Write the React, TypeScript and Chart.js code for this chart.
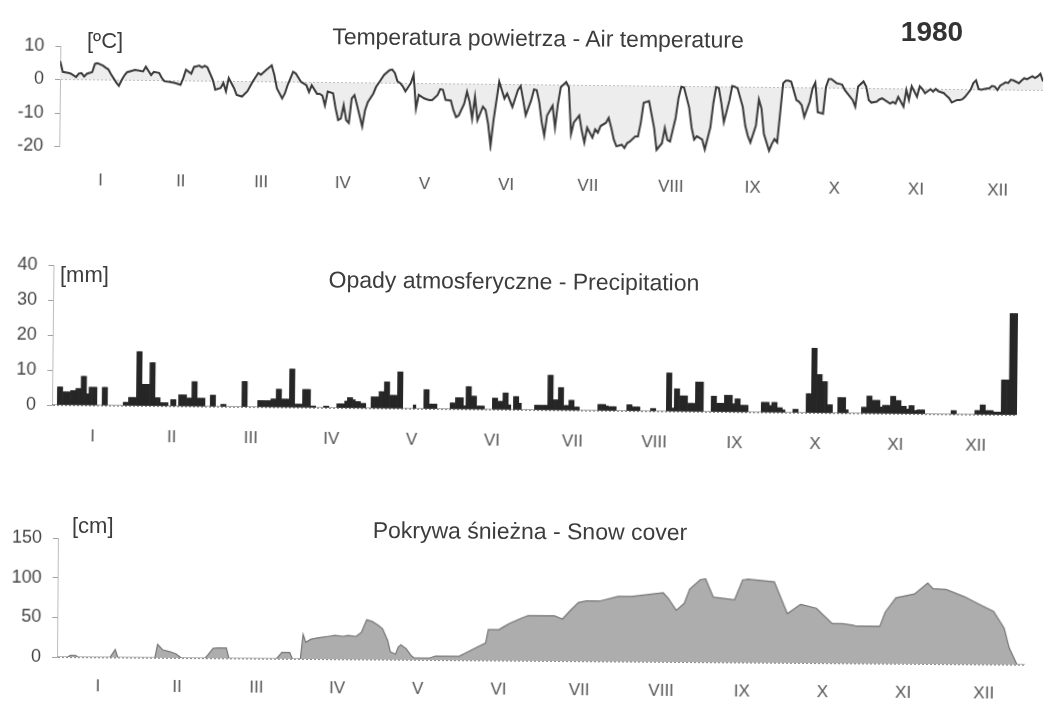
import React, { useEffect, useRef } from "react";
import { Chart, registerables } from "chart.js";

Chart.register(...registerables);

const FONT = '"Liberation Sans", Arial, Helvetica, sans-serif';

// ---------- data ----------
const monthLabels = ["I", "II", "III", "IV", "V", "VI", "VII", "VIII", "IX", "X", "XI", "XII"];
const monthMidDays = [15.5, 45.5, 75.5, 106, 136.5, 167, 197.5, 228.5, 259, 289.5, 320, 350.5];

// daily air temperature 1980, [day of year, °C]
const tempReadings: [number, number][] = [
  [0,5.5],[1,2.3],[3,2.0],[4,1.8],[6,0.8],[7,1.8],[8,2.0],[9,1.0],[10,1.8],[12,2.3],[13,4.8],[14,5.0],[16,4.3],[17,3.7],[18,3.2],[19,1.8],[21,-0.7],[22,-1.7],[23,0],[24,1.4],[25,2.4],[28,3.1],[31,2.7],[32,4.1],[34,1.6],[35,2.6],[37,2.3],[38,0.8],[39,-0.2],[41,-0.4],[43,-0.7],[45,-1.2],[46,0.8],[47,3.3],[49,2.2],[50,4.2],[52,4.6],[53,4.1],[54,4.6],[55,4.1],[57,0.5],[58,-2.5],[60,-2.0],[61,-0.5],[62,-3.0],[63,1.0],[65,-2.0],[66,-4.0],[68,-4.5],[70,-2.9],[72,0.1],[74,2.6],[75,2.1],[77,3.6],[79,4.9],[80,2.1],[81,-1.9],[83,-4.9],[84,-3.4],[85,-0.9],[87,3.1],[88,2.6],[90,0.1],[92,-0.9],[93,-2.9],[94,-0.9],[96,-3.4],[97,-3.4],[98,-3.9],[99,-6.9],[100,-2.7],[102,-3.2],[103,-7.7],[104,-11.2],[105,-10.7],[106,-6.7],[107,-11.2],[108,-12.0],[109,-4.7],[110,-3.7],[111,-6.7],[113,-13.0],[114,-8.2],[115,-5.7],[117,-3.2],[118,-1.2],[119,0],[121,2.5],[123,3.9],[124,4.1],[125,3.1],[126,0.6],[127,0.1],[128,-0.9],[129,-2.4],[131,0.1],[132,2.6],[133,-7.5],[134,-3.4],[136,-4.4],[137,-4.7],[138,-4.9],[139,-4.9],[141,-3.4],[142,-1.6],[143,-1.8],[144,-4.8],[146,-5.0],[147,-7.9],[148,-9.9],[149,-9.4],[151,-5.9],[152,-2.3],[153,-5.3],[154,-10.3],[155,-3.8],[156,-10.8],[158,-6.7],[159,-7.7],[160,-11.8],[161,-18.4],[162,-10.8],[164,0.8],[165,-1.7],[166,-4.2],[167,-2.7],[169,-6.7],[170,-4.2],[171,-1.6],[172,-0.4],[173,-4.6],[174,-9.1],[176,-4.6],[177,-1.4],[178,-1.6],[179,-5.1],[180,-11.1],[181,-15.1],[182,-9.1],[184,-6.2],[185,-12.7],[186,-5.6],[187,-0.6],[189,0.9],[190,-0.6],[191,-14.6],[192,-11.1],[194,-9.0],[195,-13.6],[196,-17.1],[197,-12.6],[199,-15.6],[200,-13.1],[201,-14.1],[202,-12.1],[204,-11.1],[205,-9.6],[206,-12.6],[207,-16.1],[208,-18.1],[210,-17.6],[211,-18.6],[212,-17.1],[213,-16.6],[215,-15.1],[216,-15.1],[217,-11.0],[218,-5.0],[220,-4.5],[221,-8.5],[222,-12.5],[223,-19.0],[225,-17.0],[226,-12.5],[227,-16.0],[228,-16.5],[230,-9.4],[231,-3.4],[232,-0.1],[233,-0.3],[235,-6.3],[236,-12.3],[237,-15.8],[238,-14.8],[240,-15.8],[241,-18.7],[243,-12.1],[244,-5.0],[245,-0.1],[246,-0.4],[247,-4.9],[248,-10.5],[250,-4.0],[251,0.3],[252,0.1],[253,-0.4],[255,-5.9],[256,-11.5],[257,-14.5],[258,-16.5],[260,-11.4],[261,-3.6],[262,-6.3],[263,-13.9],[265,-18.9],[266,-16.9],[267,-15.4],[268,-16.4],[270,1.3],[271,2.1],[272,2.1],[273,1.8],[275,-3.7],[276,-4.2],[277,-5.2],[278,-8.7],[280,-4.1],[281,-0.1],[282,1.6],[283,-7.2],[285,-7.7],[286,0.4],[287,2.7],[288,2.7],[290,1.5],[291,1.3],[292,1.1],[293,-0.5],[295,-2.5],[296,-3.5],[297,-5.5],[298,0.6],[300,2.1],[301,0.6],[302,-3.4],[303,-4.2],[305,-3.9],[306,-3.2],[307,-2.9],[308,-3.4],[310,-4.4],[311,-3.9],[312,-4.4],[313,-2.4],[315,-5.3],[316,-0.3],[317,-3.3],[318,0.8],[320,-2.3],[321,0.8],[322,0],[323,-1.2],[325,0],[326,-0.7],[327,0.1],[328,-0.6],[330,-1.1],[331,-1.9],[332,-2.6],[333,-3.9],[335,-3.1],[336,-3.1],[337,-2.9],[338,-2.1],[340,0],[341,2.0],[342,2.8],[343,0.2],[344,0],[345,0.2],[347,0.5],[348,1.2],[349,1.0],[350,0],[351,1.3],[353,2.3],[354,2.1],[355,3.1],[356,2.9],[358,2.1],[359,2.9],[360,3.6],[361,3.3],[363,4.2],[364,3.7],[365,4.2],[366,5.0],[367,2.7],
];
const tempTicks = [10, 0, -10, -20];

// daily precipitation [mm], one array per month
const precipI = [0,0,5.2,5.2,3.8,3.8,3.8,4.2,4.2,4.8,4.8,8.3,8.3,3.3,5.2,5.2,5.2,0,0,5.2,5.2,0,0,0,0,0,0,1,1,2.4,2.4];
const precipII = [2.4,15.5,15.5,6.2,6.2,6.2,12.4,12.4,2.4,2.4,1,1,1,0,1.9,1.9,0,3.3,3.3,3.3,2.4,2.4,7.1,7.1,2.4,2.4,2.4,0,0];
const precipIII = [3.3,3.3,0,0,0.7,0.7,0,0,0,0,0,0,7.3,7.3,0,0,0,0,1.9,1.9,1.9,1.9,1.9,2.4,2.4,5.2,5.2,2.4,2.4,2.4,11];
const precipIV = [11,1,1,1,5.2,5.2,5.2,0.5,0.5,0,0,0,0.5,0.5,0,0,0,1.2,1.2,1.2,2.0,3.0,3.0,2.4,1.9,1.9,1.4,1.4,0,0];
const precipV = [3.3,3.3,3.3,4.8,4.8,7.6,7.6,3.8,3.8,3.8,10.5,10.5,0,0,0,0,1.1,0,0,0,5.5,5.5,1.4,1.4,1.4,0,0,0,0,0,1.8];
const precipVI = [1.8,3.3,3.3,3.3,1,6.5,6.5,3.8,3.8,1,1,1,0,0,0,3.3,3.3,2.4,2.4,4.8,4.8,1.4,0,3.8,3.8,1.9,0,0,0,0];
const precipVII = [0,1.4,1.4,1.4,1.4,1.4,10,10,3,3,6.5,6.5,1.4,1.4,2.9,2.9,1,1,0,0,0,0,0,0,0,1.8,1.8,1.8,1.4,1.2,1.2];
const precipVIII = [1.2,0,0,0,0,1.8,1.8,1.2,1.2,1.2,0,0,0,0,0.8,0.8,0,0,0,0,11,11,1,6.5,6.5,4.5,4.5,4.5,2.4,2.4,2.4];
const precipIX = [8.5,8.5,8.5,0,0,0,4.5,4.5,2.5,2.5,2.5,4.8,4.8,4.8,2.4,3.8,3.8,2.0,2.0,2.0,0,0,0,0,0,2.9,2.9,2.9,2.0,2.9];
const precipX = [2.9,1.4,1.4,0.8,0,0,0,1.0,1.0,0,0,0,5.5,5.5,18.5,18.5,11,11,9,9,2.4,2.4,0,0,4.5,4.5,4.5,1,0,0,0];
const precipXI = [0,0,1.8,1.8,5,5,3.8,3.8,3.8,1.9,2.4,2.4,2.4,5,5,3.8,3.8,2.2,2.2,1.4,2.4,2.4,1.0,1.2,1.2,1.2,0,0,0,0];
const precipXII = [0,0,0,0,0,0,1.1,1.1,0,0,0,0,0,0,0,1.2,1.2,2.8,2.8,1.2,1.2,1.2,0.8,0.8,0.8,10,10,10,29,29,29];
const precipTicks = [0, 10, 20, 30, 40];

// snow cover depth [cm], [day of year, cm]
const snowReadings: [number, number][] = [
  [0,0],[4,0],[5,2],[7,2],[8,0],[20,0],[22,10],[23,0],[37,0],[38,17],[40,10],[43,7.5],[45,5],[47,0],[56,0],[57,4],[59,12.5],[61,13],[64,13],[65,0],[83,0],[85,8],[88,8],[89,0],[92,0],[93,31],[94,21],[96,25],[99,27],[103,29],[105,30],[108,29],[110,30],[113,29],[115,34],[117,50],[119,48],[121,44],[123,39],[125,24],[126,10],[128,7],[129,16],[130,19],[132,14],[134,5],[135,2.5],[141,2.5],[143,5],[152,5],[155,10],[159,17],[162,22],[163,39],[167,39],[169,43],[171,47],[175,53],[178,57],[188,57],[191,53],[194,64],[197,74],[200,76],[205,76],[212,82],[217,82],[229,87],[231,80],[234,65],[237,74],[239,92],[243,104],[245,105],[248,82],[256,79],[259,104],[261,105],[271,102],[276,62],[281,74],[287,69],[293,50],[297,50],[301,48],[302,47],[311,47],[313,65],[317,83],[324,88],[329,102],[331,95],[336,94],[343,85],[349,75],[354,67],[358,46],[360,21],[363,0],[366,0],
];
const snowTicks = [0, 50, 100, 150];

// ---------- layout ----------
type Frame = {
  top: number; height: number; left: number; right: number;
  plotTop: number; plotBottom: number; zeroY: number;
  tilt: number; labelPad: number; xMax: number;
};

const tempFrame: Frame = { top: 0, height: 200, left: 60, right: 1043, plotTop: 46, plotBottom: 146.5, zeroY: 79.5, tilt: 0.64, labelPad: 24, xMax: 367 };
const precipFrame: Frame = { top: 240, height: 230, left: 52, right: 1017, plotTop: 265, plotBottom: 405, zeroY: 405, tilt: 0.6, labelPad: 21, xMax: 366 };
const snowFrame: Frame = { top: 500, height: 201, left: 57, right: 1025, plotTop: 538, plotBottom: 657, zeroY: 657, tilt: 0.46, labelPad: 19, xMax: 366 };

function makeOptions(f: Frame, yMin: number, yMax: number, yTicks: number[]): any {
  return {
    animation: false,
    responsive: false,
    maintainAspectRatio: false,
    events: [],
    layout: { padding: { top: f.plotTop - f.top, right: 1044 - f.right, left: 0, bottom: 0 } },
    plugins: { legend: { display: false }, tooltip: { enabled: false }, title: { display: false } },
    scales: {
      x: {
        type: "linear",
        min: 0,
        max: f.xMax,
        offset: false,
        afterBuildTicks: (s: any) => { s.ticks = monthMidDays.map((v) => ({ value: v })); },
        afterFit: (s: any) => { s.height = f.top + f.height - f.plotBottom; },
        grid: { display: false, drawTicks: false },
        border: { display: false },
        ticks: {
          autoSkip: false,
          maxRotation: 0,
          padding: f.labelPad,
          color: "#555555",
          font: { family: FONT, size: 17 },
          callback: (_v: any, i: number) => monthLabels[i],
        },
      },
      y: {
        type: "linear",
        min: yMin,
        max: yMax,
        afterBuildTicks: (s: any) => { s.ticks = yTicks.map((v) => ({ value: v })); },
        afterFit: (s: any) => { s.width = f.left; },
        grid: {
          color: (c: any) => (c.tick && c.tick.value === 0 ? "#8e8e8e" : "rgba(0,0,0,0)"),
          tickColor: "#a0a0a0",
          tickLength: 5,
          lineWidth: 1,
        },
        border: { display: true, color: "#bdbdbd", dash: [2, 2] },
        ticks: { padding: 11, color: "#454545", font: { family: FONT, size: 18 } },
      },
    },
  };
}

function canvasStyle(f: Frame): React.CSSProperties {
  return {
    position: "absolute",
    left: 0,
    top: f.top,
    width: 1044,
    height: f.height,
    transform: `rotate(${f.tilt}deg)`,
    transformOrigin: `${f.left}px ${f.zeroY - f.top}px`,
  };
}

const textBase: React.CSSProperties = {
  position: "absolute",
  fontFamily: FONT,
  color: "#3c3c3c",
  lineHeight: 1,
  whiteSpace: "nowrap",
};

export default function App() {
  const tempRef = useRef<HTMLCanvasElement | null>(null);
  const precipRef = useRef<HTMLCanvasElement | null>(null);
  const snowRef = useRef<HTMLCanvasElement | null>(null);

  useEffect(() => {
    const precipDaily = [
      ...precipI, ...precipII, ...precipIII, ...precipIV, ...precipV, ...precipVI,
      ...precipVII, ...precipVIII, ...precipIX, ...precipX, ...precipXI, ...precipXII,
    ];

    const tempChart = new Chart(tempRef.current as HTMLCanvasElement, {
      type: "line",
      data: {
        datasets: [
          {
            data: tempReadings.map(([d, v]) => ({ x: d, y: v })),
            borderColor: "#3a3a3a",
            borderWidth: 2,
            pointRadius: 0,
            tension: 0,
            fill: { target: "origin", above: "#ededed", below: "#ededed" },
          },
        ],
      },
      options: makeOptions(tempFrame, -20, 10, tempTicks),
    } as any);

    const precipChart = new Chart(precipRef.current as HTMLCanvasElement, {
      type: "bar",
      data: {
        datasets: [
          {
            data: precipDaily.map((v, i) => ({ x: i + 0.5, y: v })),
            backgroundColor: "#262626",
            borderWidth: 0,
            barPercentage: 1,
            categoryPercentage: 1,
          },
        ],
      },
      options: makeOptions(precipFrame, 0, 40, precipTicks),
    } as any);

    const snowChart = new Chart(snowRef.current as HTMLCanvasElement, {
      type: "line",
      data: {
        datasets: [
          {
            data: snowReadings.map(([d, v]) => ({ x: d, y: v })),
            borderColor: "#767676",
            borderWidth: 1.2,
            backgroundColor: "#adadad",
            fill: "origin",
            pointRadius: 0,
            tension: 0,
          },
        ],
      },
      options: makeOptions(snowFrame, 0, 150, snowTicks),
    } as any);

    return () => {
      tempChart.destroy();
      precipChart.destroy();
      snowChart.destroy();
    };
  }, []);

  return (
    <div style={{ position: "absolute", left: 0, top: 0, width: 1044, height: 701, overflow: "hidden", background: "#ffffff" }}>
      <canvas ref={tempRef} width={1044} height={tempFrame.height} style={canvasStyle(tempFrame)} />
      <canvas ref={precipRef} width={1044} height={precipFrame.height} style={canvasStyle(precipFrame)} />
      <canvas ref={snowRef} width={1044} height={snowFrame.height} style={canvasStyle(snowFrame)} />

      <div style={{ ...textBase, left: 538, top: 27, fontSize: 23, transform: "translateX(-50%) rotate(0.5deg)" }}>
        Temperatura powietrza - Air temperature
      </div>
      <div style={{ ...textBase, left: 932, top: 18, fontSize: 28, fontWeight: "bold", color: "#333333", transform: "translateX(-50%)" }}>
        1980
      </div>
      <div style={{ ...textBase, left: 87, top: 30, fontSize: 22 }}>[ºC]</div>

      <div style={{ ...textBase, left: 514, top: 270, fontSize: 23, transform: "translateX(-50%) rotate(0.5deg)" }}>
        Opady atmosferyczne - Precipitation
      </div>
      <div style={{ ...textBase, left: 60, top: 264, fontSize: 22 }}>[mm]</div>

      <div style={{ ...textBase, left: 530, top: 520, fontSize: 23, transform: "translateX(-50%) rotate(0.4deg)" }}>
        Pokrywa śnieżna - Snow cover
      </div>
      <div style={{ ...textBase, left: 72, top: 515, fontSize: 22 }}>[cm]</div>
    </div>
  );
}
